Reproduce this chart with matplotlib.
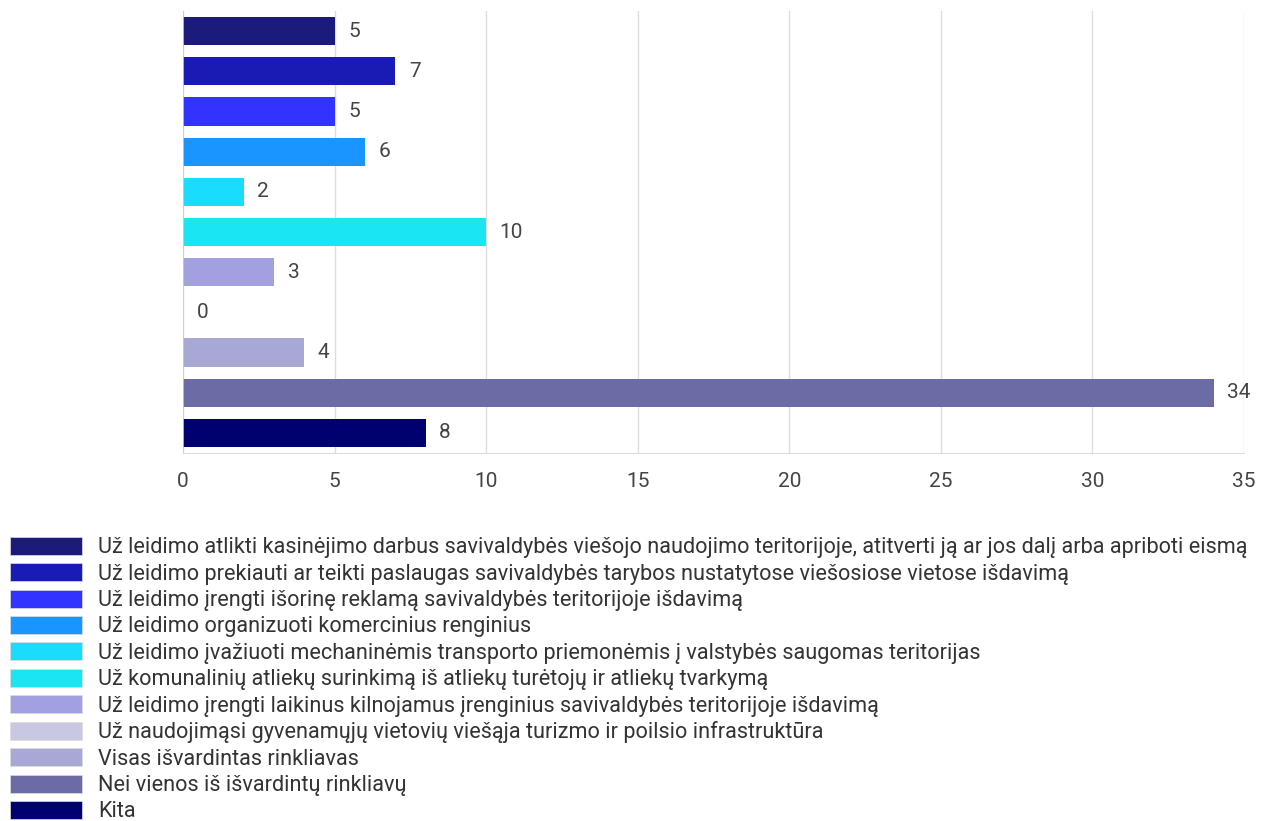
import matplotlib.pyplot as plt
from matplotlib.patches import Patch

plt.rcParams['font.family'] = ['Roboto', 'DejaVu Sans']

# Duomenys
labels = [
    "Už leidimo atlikti kasinėjimo darbus savivaldybės viešojo naudojimo teritorijoje, atitverti ją ar jos dalį arba apriboti eismą",
    "Už leidimo prekiauti ar teikti paslaugas savivaldybės tarybos nustatytose viešosiose vietose išdavimą",
    "Už leidimo įrengti išorinę reklamą savivaldybės teritorijoje išdavimą",
    "Už leidimo organizuoti komercinius renginius",
    "Už leidimo įvažiuoti mechaninėmis transporto priemonėmis į valstybės saugomas teritorijas",
    "Už komunalinių atliekų surinkimą iš atliekų turėtojų ir atliekų tvarkymą",
    "Už leidimo įrengti laikinus kilnojamus įrenginius savivaldybės teritorijoje išdavimą",
    "Už naudojimąsi gyvenamųjų vietovių viešąja turizmo ir poilsio infrastruktūra",
    "Visas išvardintas rinkliavas",
    "Nei vienos iš išvardintų rinkliavų",
    "Kita",
]
values = [5, 7, 5, 6, 2, 10, 3, 0, 4, 34, 8]
colors = ['#1b1b7b', '#1a1ab4', '#3333ff', '#1a94ff', '#1adcff', '#1ae6f2',
          '#a1a1e0', '#c8c8e2', '#a8a8d4', '#6b6ba6', '#000070']
x_ticks = [0, 5, 10, 15, 20, 25, 30, 35]

fig = plt.figure(figsize=(12.73, 8.21), dpi=100)
ax = fig.add_axes([183 / 1273, 1 - 453 / 821, (1244 - 183) / 1273, 442 / 821])

pos = list(range(len(values)))
ax.barh(pos, values, height=0.7, color=colors, zorder=2)
for p, v in zip(pos, values):
    ax.text(v + 0.45, p, str(v), va='center', ha='left', fontsize=15, color='#444444')

ax.set_ylim(len(values) - 0.5, -0.5)
ax.set_xlim(0, 35)
ax.set_xticks(x_ticks)
ax.set_yticks([])
ax.tick_params(axis='x', length=0, labelsize=15, labelcolor='#444444', pad=14)
ax.grid(axis='x', color='#dddddd', linewidth=1, zorder=0)
for s in ['top', 'right', 'left']:
    ax.spines[s].set_visible(False)
ax.spines['bottom'].set_color('#dddddd')
ax.axvline(0, color='#cccccc', linewidth=1.2, zorder=3)

handles = [Patch(facecolor=c, edgecolor='#dddddd', linewidth=0.5) for c in colors]
fig.legend(handles, labels, loc='upper left', bbox_to_anchor=(10 / 1273, 1 - 537 / 821),
           frameon=False, fontsize=15.6, handlelength=3.3, handleheight=0.9,
           handletextpad=0.75, labelspacing=0.225, borderaxespad=0, borderpad=0,
           labelcolor='#333333')

plt.savefig('out.png', dpi=100)
